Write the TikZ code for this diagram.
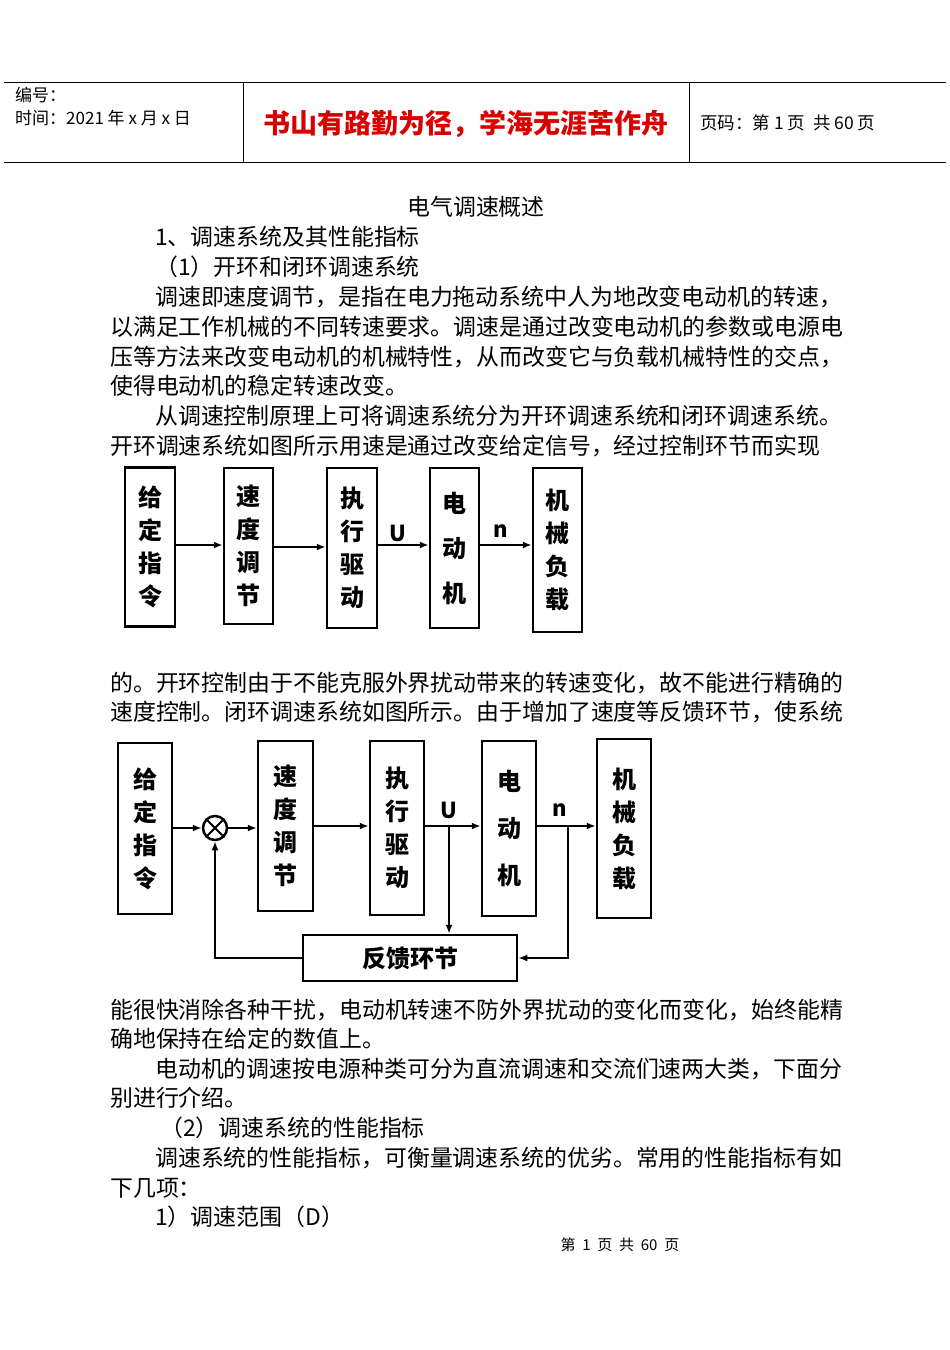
\documentclass[tikz,border=0pt]{standalone}
\usepackage{fontspec}
\setmainfont{Noto Sans CJK SC}
\usetikzlibrary{arrows.meta}
\begin{document}
\begin{tikzpicture}[x=1pt,y=-1pt,
 txt/.style={anchor=west,inner sep=0,font=\fontsize{22.9}{22.9}\selectfont},
 bx/.style={draw,line width=2.5pt,inner sep=0,font=\fontsize{24}{33}\selectfont\bfseries,align=center},
 ar/.style={line width=2pt,-{Latex[length=9pt,width=7pt]}},
 ln/.style={line width=2pt}]
\useasboundingbox (0,0) rectangle (950,1350);
\fill[white] (0,0) rectangle (950,1350);
% header
\draw[line width=0.8pt] (4,82)--(946,82) (4,162)--(946,162) (243,82)--(243,162) (689,82)--(689,162);
\node[anchor=west,inner sep=0,font=\fontsize{17}{17}\selectfont] (h1) at (15,95) {编号：};
\node[anchor=west,inner sep=0,font=\fontsize{17}{17}\selectfont] (h2) at (15,118) {时间：2021 年 x 月 x 日};
\node[inner sep=0,text=red!85!black,font=\fontsize{27}{27}\selectfont\bfseries] (h3) at (466,124) {书山有路勤为径，学海无涯苦作舟};
\node[anchor=west,inner sep=0,font=\fontsize{17.5}{17}\selectfont] (h4) at (700,123) {页码：第 1 页\ \ 共 60 页};
% body text
\node[inner sep=0,font=\fontsize{22.9}{22.9}\selectfont] (t0) at (476,207) {电气调速概述};
\node[txt] (t1) at (155,237) {1、调速系统及其性能指标};
\node[txt] (t2) at (155,267) {（1）开环和闭环调速系统};
\node[txt] (t3) at (155,297) {调速即速度调节，是指在电力拖动系统中人为地改变电动机的转速，};
\node[txt] (t4) at (110,327) {以满足工作机械的不同转速要求。调速是通过改变电动机的参数或电源电};
\node[txt] (t5) at (110,357) {压等方法来改变电动机的机械特性，从而改变它与负载机械特性的交点，};
\node[txt] (t6) at (110,386) {使得电动机的稳定转速改变。};
\node[txt] (t7) at (155,416) {从调速控制原理上可将调速系统分为开环调速系统和闭环调速系统。};
\node[txt] (t8) at (110,446) {开环调速系统如图所示用速是通过改变给定信号，经过控制环节而实现};
% diagram 1
\node[bx,minimum width=50pt,minimum height=159pt] (a1) at (150,547) {给\\定\\指\\令};
\node[bx,minimum width=49pt,minimum height=156pt] (a2) at (248.5,546) {速\\度\\调\\节};
\node[bx,minimum width=50pt,minimum height=160pt] (a3) at (352,548) {执\\行\\驱\\动};
\node[bx,minimum width=49pt,minimum height=160pt] (a4) at (454.5,548) {电\\[12pt]动\\[12pt]机};
\node[bx,minimum width=49pt,minimum height=164pt] (a5) at (557.5,550) {机\\械\\负\\载};
\draw[ar] (a1.east|-0,545) -- (a2.west|-0,545);
\draw[ar] (a2.east|-0,547) -- (a3.west|-0,547);
\draw[ar] (a3.east|-0,545) -- (a4.west|-0,545);
\draw[ar] (a4.east|-0,545) -- (a5.west|-0,545);
\node[inner sep=0,font=\fontsize{22}{22}\selectfont\bfseries] (u1) at (398,533) {U};
\node[inner sep=0,font=\fontsize{22}{22}\selectfont\bfseries] (n1) at (501,531) {n};
\node[txt] (t9) at (110,683) {的。开环控制由于不能克服外界扰动带来的转速变化，故不能进行精确的};
\node[txt] (t10) at (110,712) {速度控制。闭环调速系统如图所示。由于增加了速度等反馈环节，使系统};
% diagram 2
\node[bx,minimum width=54pt,minimum height=171pt] (b1) at (145,828.5) {给\\定\\指\\令};
\node[bx,minimum width=55pt,minimum height=170pt] (b2) at (285.5,826) {速\\度\\调\\节};
\node[bx,minimum width=54pt,minimum height=174pt] (b3) at (397,828) {执\\行\\驱\\动};
\node[bx,minimum width=54pt,minimum height=175pt] (b4) at (509,828.5) {电\\[14pt]动\\[14pt]机};
\node[bx,minimum width=54pt,minimum height=179pt] (b5) at (624,828.5) {机\\械\\负\\载};
\node[draw,line width=2.5pt,circle,minimum size=24pt,inner sep=0] (s) at (215,828) {};
\draw[line width=2pt] (s.north west)--(s.south east) (s.north east)--(s.south west);
\node[bx,minimum width=214pt,minimum height=46pt] (fb) at (410,958) {反馈环节};
\draw[ar] (b1.east|-0,828) -- (s.west);
\draw[ar] (s.east) -- (b2.west|-0,828);
\draw[ar] (b2.east|-0,826) -- (b3.west|-0,826);
\draw[ar] (b3.east|-0,826) -- (b4.west|-0,826);
\draw[ar] (b4.east|-0,826) -- (b5.west|-0,826);
\coordinate (bu) at (449,826);
\coordinate (bn) at (568,826);
\draw[ar] (bu) -- (bu|-fb.north);
\draw[ar] (bn) |- (fb.east);
\draw[ar] (fb.west) -| (s.south);
\node[inner sep=0,font=\fontsize{22}{22}\selectfont\bfseries] (u2) at (449,810) {U};
\node[inner sep=0,font=\fontsize{22}{22}\selectfont\bfseries] (n2) at (560,810) {n};
% text after
\node[txt] (t11) at (110,1010) {能很快消除各种干扰，电动机转速不防外界扰动的变化而变化，始终能精};
\node[txt] (t12) at (110,1039) {确地保持在给定的数值上。};
\node[txt] (t13) at (155,1069) {电动机的调速按电源种类可分为直流调速和交流们速两大类，下面分};
\node[txt] (t14) at (110,1098) {别进行介绍。};
\node[txt] (t15) at (160,1128) {（2）调速系统的性能指标};
\node[txt] (t16) at (155,1158) {调速系统的性能指标，可衡量调速系统的优劣。常用的性能指标有如};
\node[txt] (t17) at (110,1188) {下几项：};
\node[txt] (t18) at (155,1217) {1）调速范围（D）};
\node[inner sep=0,font=\fontsize{15}{15}\selectfont] (ft) at (620,1245) {第\ \ 1\ \ 页\ \ 共\ \ 60\ \ 页};
\end{tikzpicture}
\end{document}
